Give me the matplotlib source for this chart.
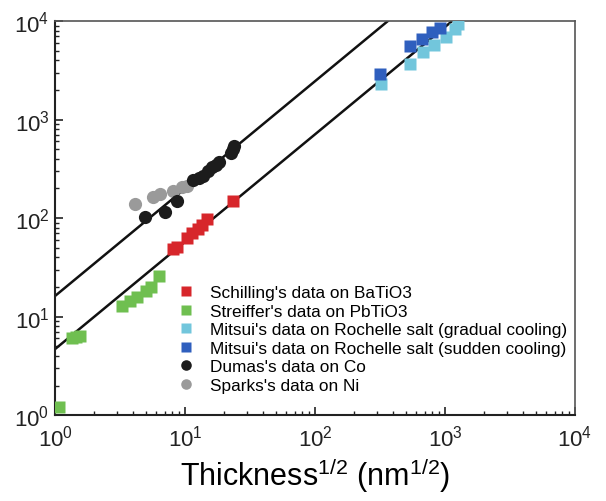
import matplotlib
matplotlib.use("Agg")
import matplotlib.pyplot as plt
import numpy as np
from matplotlib.ticker import LogLocator, NullFormatter

plt.rcParams['font.family'] = ['Liberation Sans', 'DejaVu Sans']
plt.rcParams['mathtext.default'] = 'regular'

# Data (x = thickness^1/2 in nm^1/2, y = domain width)
schilling_x = [8.1, 8.7, 10.3, 11.3, 12.5, 13.5, 14.8, 23.4]
schilling_y = [49, 51, 63, 70, 78, 86, 97, 148]

streiffer_x = [1.08, 1.35, 1.45, 1.55, 3.3, 3.8, 4.3, 5.0, 5.5, 6.3]
streiffer_y = [1.2, 6.0, 6.2, 6.4, 12.8, 14.5, 16, 18, 20, 26]

mitsui_grad_x = [322, 540, 676, 825, 1020, 1200, 1260]
mitsui_grad_y = [2300, 3700, 4900, 5700, 6900, 8300, 9300]

mitsui_sud_x = [316, 537, 665, 800, 915]
mitsui_sud_y = [2900, 5560, 6600, 7740, 8500]

dumas_x = [4.9, 7.0, 8.7, 11.6, 12.7, 13.7, 15.0, 16.0, 17.2, 18.2, 22.5, 23.3, 24.0]
dumas_y = [102, 115, 148, 245, 258, 268, 300, 330, 350, 370, 460, 505, 540]

sparks_x = [4.1, 5.7, 6.4, 8.1, 9.5, 10.4]
sparks_y = [139, 163, 175, 188, 205, 212]

# Power-law guide lines: y = a * x^b
fit_upper_a, fit_upper_b = 16.2, 1.09
fit_lower_a, fit_lower_b = 4.68, 1.09

labels = ["Schilling's data on BaTiO3",
          "Streiffer's data on PbTiO3",
          "Mitsui's data on Rochelle salt (gradual cooling)",
          "Mitsui's data on Rochelle salt (sudden cooling)",
          "Dumas's data on Co",
          "Sparks's data on Ni"]

fig = plt.figure(figsize=(6.06, 5.02), dpi=100)
ax = fig.add_axes([0.0908, 0.171, 0.858, 0.785])

xx = np.logspace(0, 4, 200)
ax.plot(xx, fit_upper_a * xx ** fit_upper_b, color='#111111', lw=1.8, zorder=2)
ax.plot(xx, fit_lower_a * xx ** fit_lower_b, color='#111111', lw=1.8, zorder=2)

ms_sq = 8.5
ms_c = 9.5
ax.plot(schilling_x, schilling_y, 's', color='#d7262b', ms=ms_sq, mec='none', label=labels[0], zorder=3)
ax.plot(streiffer_x, streiffer_y, 's', color='#6fbf50', ms=ms_sq, mec='none', label=labels[1], zorder=3)
ax.plot(mitsui_grad_x, mitsui_grad_y, 's', color='#72c6dc', ms=ms_sq, mec='none', label=labels[2], zorder=3)
ax.plot(mitsui_sud_x, mitsui_sud_y, 's', color='#2f5fbe', ms=ms_sq, mec='none', label=labels[3], zorder=3)
ax.plot(dumas_x, dumas_y, 'o', color='#1c1c1c', ms=ms_c, mec='none', label=labels[4], zorder=3)
ax.plot(sparks_x, sparks_y, 'o', color='#9a9a9a', ms=ms_c, mec='none', label=labels[5], zorder=2.5)

ax.set_xscale('log')
ax.set_yscale('log')
ax.set_xlim(1, 1e4)
ax.set_ylim(1, 1e4)

ax.xaxis.set_major_locator(LogLocator(base=10, numticks=10))
ax.yaxis.set_major_locator(LogLocator(base=10, numticks=10))
ax.xaxis.set_minor_locator(LogLocator(base=10, subs=np.arange(2, 10), numticks=20))
ax.yaxis.set_minor_locator(LogLocator(base=10, subs=np.arange(2, 10), numticks=20))
ax.xaxis.set_minor_formatter(NullFormatter())
ax.yaxis.set_minor_formatter(NullFormatter())

ax.tick_params(which='both', direction='in', top=False, right=False, colors='#222222')
ax.tick_params(which='major', length=6, width=1.2, labelsize=16)
ax.tick_params(axis='x', which='major', pad=7)
ax.tick_params(axis='y', which='major', pad=4)
ax.tick_params(which='minor', length=3, width=1.0)

for s in ['left', 'bottom']:
    ax.spines[s].set_linewidth(1.5)
    ax.spines[s].set_color('#222222')
for s in ['top', 'right']:
    ax.spines[s].set_linewidth(1.2)
    ax.spines[s].set_color('#555555')

ax.set_xlabel('Thickness$^{1/2}$ (nm$^{1/2}$)', fontsize=22, labelpad=3)

leg = ax.legend(loc='upper left', bbox_to_anchor=(0.226, 0.347), frameon=False,
                fontsize=12.4, handlelength=0.75, handletextpad=1.0,
                labelspacing=0.2, borderaxespad=0, markerscale=0.8)

fig.savefig('out.png', dpi=100)
